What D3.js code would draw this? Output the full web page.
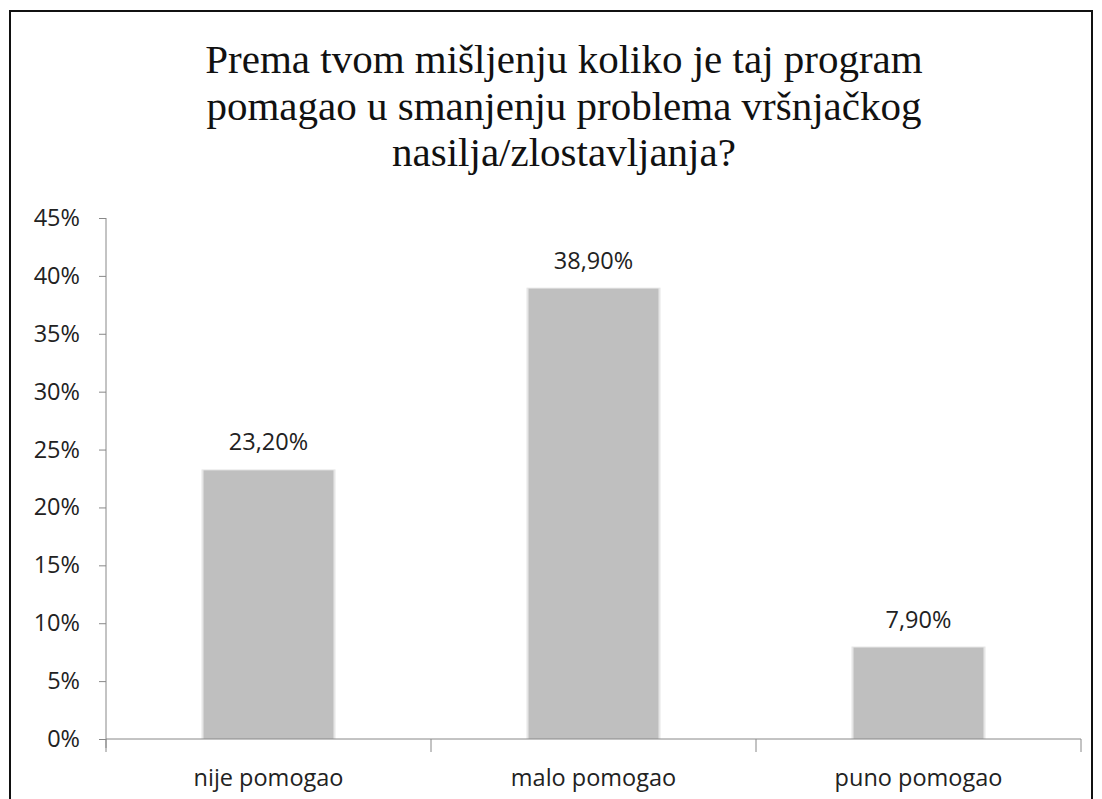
<!DOCTYPE html>
<html><head><meta charset="utf-8">
<script src="https://cdn.jsdelivr.net/npm/d3@7"></script>
<style>body{margin:0;background:#fff}</style>
</head><body>
<svg id="c" width="1102" height="799"></svg>
<script>
const titleLines = ["Prema tvom mišljenju koliko je taj program", "pomagao  u smanjenju problema vršnjačkog", "nasilja/zlostavljanja?"];
const categories = ["nije pomogao", "malo pomogao", "puno pomogao"];
const values = [23.2, 38.9, 7.9];
const valueLabels = ["23,20%", "38,90%", "7,90%"];
const yTicks = [0, 5, 10, 15, 20, 25, 30, 35, 40, 45];

const svg = d3.select("#c");
svg.append("rect").attr("x", 0).attr("y", 0).attr("width", 1102).attr("height", 799).attr("fill", "#fff");
svg.append("path").attr("d", "M10,810 V11 H1092 V810").attr("fill", "none").attr("stroke", "#111").attr("stroke-width", 2);

const title = svg.append("text").attr("font-family", "Liberation Serif").attr("font-size", 41).attr("fill", "#111").attr("text-anchor", "middle");
titleLines.forEach((l, i) => {
  title.append("tspan").attr("x", 564).attr("y", 73 + i * 46.5).text(l);
});

const x = d3.scaleBand().domain(categories).range([106, 1081]).paddingInner(0.6).paddingOuter(0.3);
const xb = d3.scaleBand().domain(categories).range([106, 1081]);
const y = d3.scaleLinear().domain([0, 45]).range([739, 218]);

const font = "Open Sans";
const fs = 23.5;
const ga = svg.append("g").attr("transform", "translate(106,0)")
  .call(d3.axisLeft(y).tickValues(yTicks).tickFormat(d => d + "%").tickSize(7).tickPadding(19));
ga.select(".domain").attr("stroke", "#888").attr("d", "M0,218V748");
ga.selectAll(".tick line").attr("stroke", "#888");
ga.selectAll("text").attr("font-family", font).attr("font-size", fs).attr("fill", "#222");

// bars
svg.selectAll("rect.shadow").data(values).enter().append("rect")
  .attr("x", (d, i) => x(categories[i]) - 2).attr("y", d => y(d) - 1)
  .attr("width", x.bandwidth() + 4).attr("height", d => y(0) - y(d) + 1)
  .attr("fill", "#e6e6e6");
svg.selectAll("rect.bar").data(values).enter().append("rect")
  .attr("x", (d, i) => x(categories[i])).attr("y", d => y(d))
  .attr("width", x.bandwidth()).attr("height", d => y(0) - y(d))
  .attr("fill", "#bfbfbf");

svg.selectAll("text.val").data(values).enter().append("text")
  .attr("x", (d, i) => x(categories[i]) + x.bandwidth() / 2).attr("y", d => y(d) - 20)
  .attr("text-anchor", "middle").attr("font-family", font).attr("font-size", fs).attr("fill", "#222")
  .text((d, i) => valueLabels[i]);

const gx = svg.append("g").attr("transform", "translate(0,739)")
  .call(d3.axisBottom(xb).tickSize(0).tickPadding(30));
gx.select(".domain").attr("stroke", "#888").attr("d", "M106,0H1081");
gx.selectAll("text").attr("font-family", font).attr("font-size", fs).attr("fill", "#222");
const bounds = [106, 431, 756, 1081];
svg.selectAll("line.xt").data(bounds).enter().append("line")
  .attr("x1", d => d).attr("x2", d => d).attr("y1", 739).attr("y2", 752).attr("stroke", "#888");
</script>
</body></html>
